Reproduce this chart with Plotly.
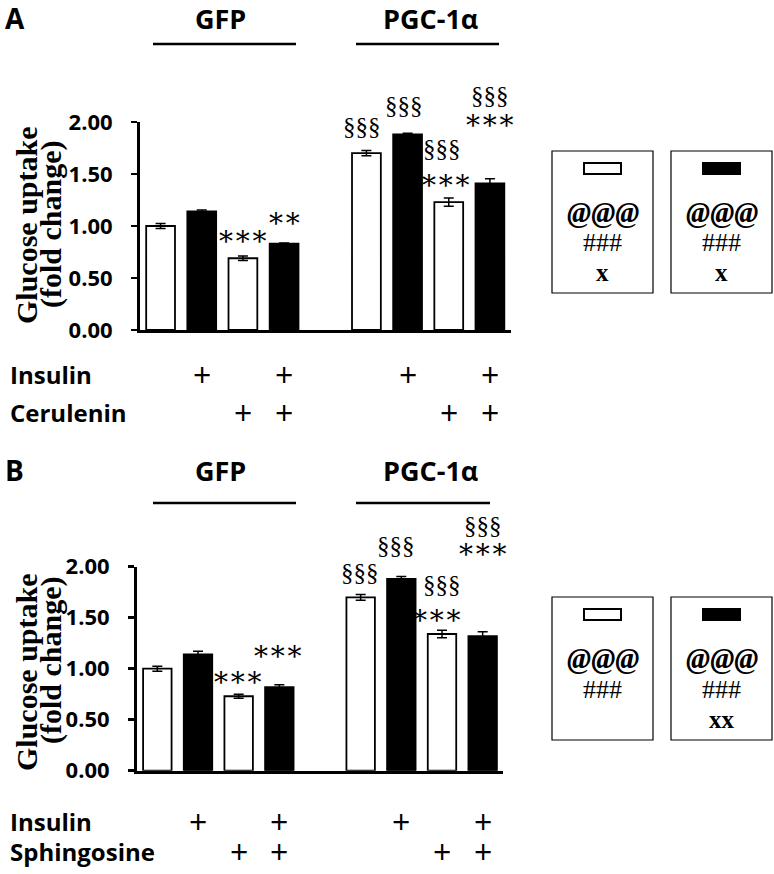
import plotly.graph_objects as go

W, H = 774, 874

# ---------------- data ----------------
positions = [0, 1, 2, 3, 5, 6, 7, 8]
fills = ["white", "black", "white", "black", "white", "black", "white", "black"]
group_names = ["GFP", "PGC-1α"]

a_values = [1.00, 1.14, 0.69, 0.83, 1.70, 1.88, 1.23, 1.41]
a_errors = [0.025, 0.015, 0.022, 0.006, 0.025, 0.012, 0.040, 0.045]
b_values = [1.00, 1.14, 0.73, 0.82, 1.70, 1.88, 1.34, 1.32]
b_errors = [0.025, 0.030, 0.020, 0.022, 0.028, 0.023, 0.036, 0.042]

insulin = [0, 1, 0, 1, 0, 1, 0, 1]
cerulenin = [0, 0, 1, 1, 0, 0, 1, 1]
sphingosine = [0, 0, 1, 1, 0, 0, 1, 1]

ytick_vals = [0, 0.5, 1.0, 1.5, 2.0]
ytick_text = ["0.00", "0.50", "1.00", "1.50", "2.00"]

STARS3 = "*\u200a*\u200a*"
STARS2 = "*\u200a*"
# significance marks: (bar index, text)
a_marks = [(2, STARS3), (3, STARS2), (4, "§§§"), (5, "§§§"),
           (6, "§§§"), (6, STARS3), (7, "§§§"), (7, STARS3)]
b_marks = [(2, STARS3), (3, STARS3), (4, "§§§"), (5, "§§§"),
           (6, "§§§"), (6, STARS3), (7, "§§§"), (7, STARS3)]

legend_a = [["@@@", "###", "x"], ["@@@", "###", "x"]]
legend_b = [["@@@", "###", ""], ["@@@", "###", "xx"]]

# --------------- layout helpers ---------------
def px(x):
    return x / W

def py(y):
    return 1 - y / H

SANS = "Open Sans"
SERIF = "Liberation Serif"

fig = go.Figure()

panels = [
    dict(vals=a_values, errs=a_errors, xa="x", ya="y", xdom=(140, 510.5), ydom=(330, 122),
         letter="A", top=18, line_y=44, marks=a_marks, treat=("Cerulenin", cerulenin),
         rows=(374, 412), legend=legend_a, box=(151, 293),
         mark_off=[19, 25, 24, 28, 49, 17, 83, 58], mark_dx=[0, 0, -4, -4, -7, -3, 0, 0],
         ylab=(225, 224)),
    dict(vals=b_values, errs=b_errors, xa="x2", ya="y2", xdom=(137, 503), ydom=(770.7, 566.7),
         letter="B", top=470, line_y=503, marks=b_marks, treat=("Sphingosine", sphingosine),
         rows=(821, 851), legend=legend_b, box=(597, 740),
         mark_off=[17, 33, 22, 31, 46, 15, 106, 82], mark_dx=[-1, -1, -1, -5, 0, -5, 0, 0],
         ylab=(672, 660)),
]

annotations = []
shapes = []

for k, p in enumerate(panels):
    fig.add_trace(go.Bar(
        x=positions, y=p["vals"], xaxis=p["xa"], yaxis=p["ya"], width=0.7,
        marker=dict(color=fills, line=dict(color="black", width=1.8)),
        error_y=dict(type="data", array=p["errs"], visible=True, color="black",
                     thickness=1.5, width=5),
        showlegend=False, hoverinfo="skip"))
    axsuffix = "" if k == 0 else "2"
    fig.update_layout(**{
        "xaxis" + axsuffix: dict(domain=[px(p["xdom"][0]), px(p["xdom"][1])],
                                 range=[-0.5, 8.5], showline=True, linecolor="black",
                                 linewidth=3, showticklabels=False, ticks="",
                                 showgrid=False, zeroline=False, fixedrange=True,
                                 automargin=False, anchor="y" + axsuffix),
        "yaxis" + axsuffix: dict(domain=[py(p["ydom"][0]), py(p["ydom"][1])],
                                 range=[0, 2], showline=True, linecolor="black",
                                 linewidth=3, tickvals=ytick_vals, ticktext=ytick_text,
                                 ticks="outside", ticklen=6, tickwidth=2.5,
                                 tickcolor="black", ticklabelstandoff=14,
                                 tickfont=dict(family=SANS, size=22, color="black", weight="bold"),
                                 showgrid=False, zeroline=False, fixedrange=True,
                                 automargin=False, anchor="x" + axsuffix),
    })

    # panel letter, group headers and header lines
    annotations.append(dict(text=p["letter"], x=px(3), y=py(p["top"]), xref="paper", yref="paper",
                            xanchor="left", yanchor="middle", showarrow=False,
                            font=dict(family=SANS, size=28, color="black", weight="bold")))
    for name, cx, (x0, x1) in zip(group_names, (220, 430), ((153, 296), (356, 499 if k == 0 else 490))):
        annotations.append(dict(text=name, x=px(cx), y=py(p["top"]), xref="paper", yref="paper",
                                xanchor="center", yanchor="middle", showarrow=False,
                                font=dict(family=SANS, size=27, color="black", weight="bold")))
        shapes.append(dict(type="line", xref="paper", yref="paper", x0=px(x0), x1=px(x1),
                           y0=py(p["line_y"]), y1=py(p["line_y"]),
                           line=dict(color="black", width=2.5)))

    # y-axis title (two lines, rotated)
    for txt, cx, cy in (("Glucose uptake", 26, p["ylab"][0]), ("(fold change)", 51, p["ylab"][1])):
        annotations.append(dict(text=txt, x=px(cx), y=py(cy), xref="paper", yref="paper",
                                xanchor="center", yanchor="middle", textangle=-90,
                                showarrow=False,
                                font=dict(family=SERIF, size=30, color="black", weight="bold")))

    # significance marks
    for (bi, txt), off, dx in zip(p["marks"], p["mark_off"], p["mark_dx"]):
        top = p["vals"][bi] + p["errs"][bi]
        is_star = "*" in txt
        annotations.append(dict(text=txt, x=positions[bi], y=top, xref=p["xa"], yref=p["ya"],
                                xanchor="center", yanchor="middle", showarrow=False,
                                xshift=dx, yshift=off - (5 if is_star else 0),
                                font=dict(family="DejaVu Serif" if is_star else SERIF,
                                          size=28 if is_star else 25, color="black")))

    # treatment rows
    row_names = ["Insulin", p["treat"][0]]
    row_flags = [insulin, p["treat"][1]]
    for name, flags, ry in zip(row_names, row_flags, p["rows"]):
        annotations.append(dict(text=name, x=px(8), y=py(ry), xref="paper", yref="paper",
                                xanchor="left", yanchor="middle", showarrow=False,
                                font=dict(family=SANS, size=24, color="black", weight="bold")))
        for pos, f in zip(positions, flags):
            if f:
                annotations.append(dict(text="+", x=pos, y=py(ry), xref=p["xa"], yref="paper",
                                        xanchor="center", yanchor="middle", showarrow=False,
                                        font=dict(family=SANS, size=32, color="black")))

    # legend boxes
    b0, b1 = p["box"]
    for j, (bx0, bx1) in enumerate(((552, 653), (671, 772))):
        shapes.append(dict(type="rect", xref="paper", yref="paper", x0=px(bx0), x1=px(bx1),
                           y0=py(b1), y1=py(b0), line=dict(color="black", width=1.2),
                           fillcolor="rgba(0,0,0,0)"))
        cx = (bx0 + bx1) / 2
        shapes.append(dict(type="rect", xref="paper", yref="paper", x0=px(cx - 18.5), x1=px(cx + 18.5),
                           y0=py(b0 + 23), y1=py(b0 + 12),
                           line=dict(color="black", width=2),
                           fillcolor="white" if j == 0 else "black"))
        for txt, dy, fsz, style in zip(p["legend"][j], (61, 92, 122), (29, 26, 25), ("bi", "n", "b")):
            if not txt:
                continue
            t = txt
            if style == "bi":
                t = "<b><i>" + txt + "</i></b>"
            elif style == "b":
                t = "<b>" + txt + "</b>"
            annotations.append(dict(text=t, x=px(cx), y=py(b0 + dy), xref="paper", yref="paper",
                                    xanchor="center", yanchor="middle", showarrow=False,
                                    font=dict(family=SERIF, size=fsz, color="black")))

fig.update_layout(width=W, height=H, autosize=False,
                  margin=dict(l=0, r=0, t=0, b=0, pad=0),
                  paper_bgcolor="white", plot_bgcolor="white",
                  bargap=0.3, annotations=annotations, shapes=shapes)

fig.write_html("out.html", config={"displayModeBar": False, "staticPlot": True},
               post_script="document.body.style.margin='0';document.body.style.padding='0';")
